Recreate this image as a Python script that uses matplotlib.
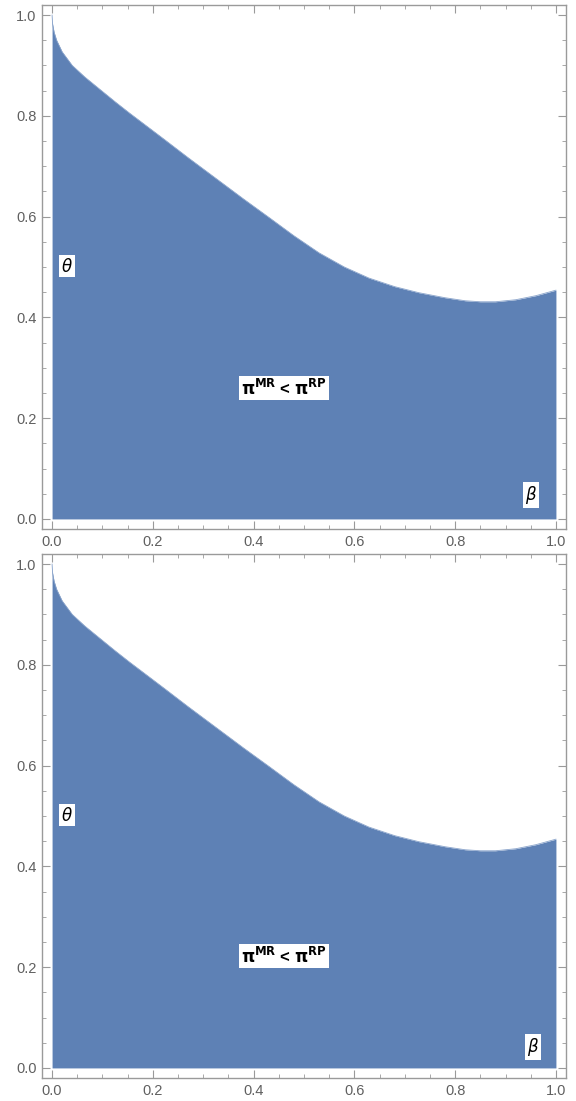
import numpy as np
import matplotlib.pyplot as plt
from matplotlib.ticker import MultipleLocator

# boundary of the region pi^MR < pi^RP, theta as a function of beta
beta = [0.0, 0.001, 0.004, 0.009, 0.02, 0.04, 0.065, 0.098, 0.125, 0.153,
        0.19, 0.223, 0.27, 0.325, 0.38, 0.431, 0.48, 0.53, 0.58, 0.629,
        0.68, 0.728, 0.78, 0.82, 0.85, 0.88, 0.92, 0.96, 1.0]
theta = [1.0, 0.982, 0.966, 0.950, 0.927, 0.900, 0.877, 0.850, 0.828, 0.806,
         0.778, 0.753, 0.717, 0.676, 0.635, 0.598, 0.562, 0.528, 0.500, 0.478,
         0.461, 0.449, 0.439, 0.433, 0.431, 0.431, 0.435, 0.443, 0.454]

x_ticks = [0.0, 0.2, 0.4, 0.6, 0.8, 1.0]
y_ticks = [0.0, 0.2, 0.4, 0.6, 0.8, 1.0]

# label positions (beta, theta) for each panel
region_label_pos = [(0.46, 0.26), (0.46, 0.222)]
theta_label_pos = [(0.03, 0.502), (0.03, 0.502)]
beta_label_pos = [(0.951, 0.048), (0.955, 0.042)]

fill_color = '#5e81b5'
frame_color = '#9a9a9a'
tick_text = '#606060'

plt.rcParams['font.family'] = ['Liberation Sans', 'DejaVu Sans']

fig = plt.figure(figsize=(5.76, 11.01), dpi=100)
pad = 0.02
boxes = [[42 / 576, 1 - 529 / 1101, 524 / 576, 524 / 1101],
         [42 / 576, 1 - 1078 / 1101, 524 / 576, 524 / 1101]]

for i, box in enumerate(boxes):
    ax = fig.add_axes(box)
    ax.fill_between(beta, 0, theta, color=fill_color, linewidth=0)
    ax.plot(beta, theta, color='#8aa4cb', linewidth=0.6)
    ax.set_xlim(-pad, 1 + pad)
    ax.set_ylim(-pad, 1 + pad)

    ax.set_xticks(x_ticks)
    ax.set_yticks(y_ticks)
    ax.set_xticklabels([f'{v:.1f}' for v in x_ticks])
    ax.set_yticklabels([f'{v:.1f}' for v in y_ticks])
    ax.xaxis.set_minor_locator(MultipleLocator(0.05))
    ax.yaxis.set_minor_locator(MultipleLocator(0.05))
    ax.tick_params(which='both', direction='in', top=True, right=True,
                   color=frame_color, labelcolor=tick_text, labelsize=10.5)
    ax.tick_params(which='major', length=6, width=0.8, pad=4)
    ax.tick_params(which='minor', length=3, width=0.6)
    for s in ax.spines.values():
        s.set_color(frame_color)
        s.set_linewidth(1.0)

    box_style = dict(boxstyle='square,pad=0.12', facecolor='white', edgecolor='none')
    rx, ry = region_label_pos[i]
    ax.text(rx, ry, r'$\mathbf{\pi^{MR}}$ < $\mathbf{\pi^{RP}}$', ha='center', va='center',
            fontsize=12, fontweight='bold', color='black', bbox=box_style)
    tx, ty = theta_label_pos[i]
    ax.text(tx, ty, r'$\theta$', ha='center', va='center', fontsize=12, bbox=box_style)
    bx, by = beta_label_pos[i]
    ax.text(bx, by, r'$\beta$', ha='center', va='center', fontsize=12, bbox=box_style)

fig.savefig('out.png', dpi=100, facecolor='white')
